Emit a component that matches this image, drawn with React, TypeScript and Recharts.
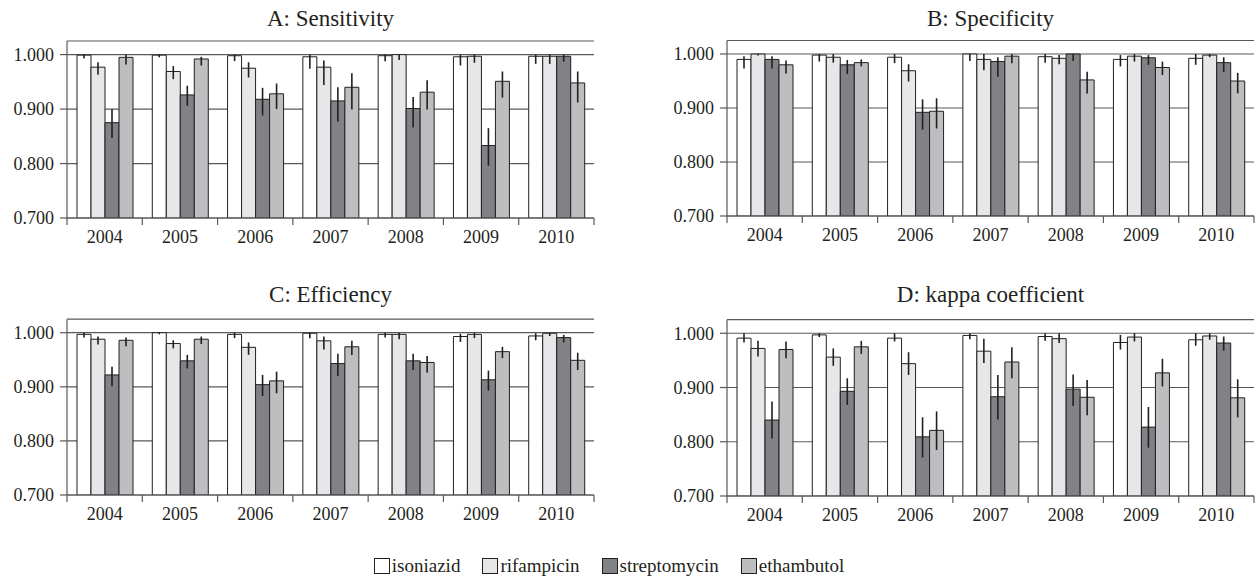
import { BarChart, Bar, XAxis, YAxis, CartesianGrid, ErrorBar } from "recharts";

const YEARS = ["2004", "2005", "2006", "2007", "2008", "2009", "2010"];
const DRUGS = ["isoniazid", "rifampicin", "streptomycin", "ethambutol"];
const FILLS = ["#ffffff", "#e6e7e8", "#808285", "#bcbec0"];
const Y_TICKS = [0.7, 0.8, 0.9, 1.0];

// A: Sensitivity  (values, then [lower, upper] confidence limits)
const sensIso = [0.999, 0.999, 0.998, 0.996, 0.998, 0.996, 0.997];
const sensIsoCi = [[0.993, 1], [0.995, 1], [0.988, 1], [0.974, 1], [0.988, 1], [0.98, 1], [0.983, 1]];
const sensRif = [0.977, 0.969, 0.975, 0.977, 1.0, 0.997, 0.997];
const sensRifCi = [[0.963, 0.986], [0.955, 0.979], [0.958, 0.986], [0.944, 0.989], [0.99, 1], [0.985, 1], [0.983, 1]];
const sensStr = [0.875, 0.926, 0.918, 0.915, 0.901, 0.833, 0.997];
const sensStrCi = [[0.847, 0.9], [0.906, 0.943], [0.888, 0.939], [0.877, 0.94], [0.866, 0.922], [0.796, 0.865], [0.987, 1]];
const sensEth = [0.995, 0.992, 0.928, 0.94, 0.931, 0.951, 0.948];
const sensEthCi = [[0.982, 1], [0.98, 0.996], [0.9, 0.947], [0.899, 0.966], [0.899, 0.953], [0.921, 0.969], [0.912, 0.969]];

// B: Specificity
const specIso = [0.99, 0.998, 0.994, 1.0, 0.995, 0.99, 0.992];
const specIsoCi = [[0.973, 0.996], [0.986, 1], [0.983, 1], [0.987, 1], [0.984, 1], [0.977, 0.998], [0.98, 1]];
const specRif = [1.0, 0.994, 0.969, 0.99, 0.992, 0.996, 0.998];
const specRifCi = [[0.997, 1], [0.984, 1], [0.949, 0.981], [0.97, 1], [0.981, 0.998], [0.986, 1], [0.994, 1]];
const specStr = [0.99, 0.98, 0.892, 0.986, 1.0, 0.993, 0.984];
const specStrCi = [[0.973, 0.996], [0.963, 0.989], [0.86, 0.916], [0.958, 0.994], [0.987, 1], [0.98, 0.998], [0.967, 0.994]];
const specEth = [0.98, 0.984, 0.894, 0.996, 0.952, 0.975, 0.95];
const specEthCi = [[0.964, 0.988], [0.977, 0.99], [0.862, 0.918], [0.983, 1], [0.927, 0.967], [0.961, 0.986], [0.927, 0.965]];

// C: Efficiency
const effIso = [0.997, 1.0, 0.997, 0.999, 0.997, 0.993, 0.994];
const effIsoCi = [[0.991, 1], [0.997, 1], [0.99, 1], [0.99, 1], [0.991, 1], [0.983, 0.998], [0.986, 0.999]];
const effRif = [0.988, 0.98, 0.973, 0.985, 0.997, 0.997, 0.999];
const effRifCi = [[0.978, 0.993], [0.971, 0.986], [0.959, 0.982], [0.969, 0.993], [0.988, 1], [0.99, 1], [0.994, 1]];
const effStr = [0.922, 0.948, 0.904, 0.943, 0.948, 0.913, 0.991];
const effStrCi = [[0.901, 0.937], [0.934, 0.959], [0.883, 0.922], [0.92, 0.961], [0.931, 0.961], [0.893, 0.93], [0.982, 0.996]];
const effEth = [0.986, 0.988, 0.911, 0.974, 0.945, 0.965, 0.949];
const effEthCi = [[0.975, 0.991], [0.979, 0.993], [0.888, 0.928], [0.959, 0.985], [0.926, 0.957], [0.953, 0.974], [0.931, 0.963]];

// D: kappa coefficient
const kapIso = [0.991, 0.997, 0.991, 0.996, 0.994, 0.983, 0.988];
const kapIsoCi = [[0.983, 1], [0.993, 1], [0.985, 1], [0.989, 1], [0.986, 1], [0.97, 0.997], [0.977, 1]];
const kapRif = [0.972, 0.956, 0.944, 0.967, 0.99, 0.993, 0.995];
const kapRifCi = [[0.957, 0.986], [0.94, 0.972], [0.923, 0.965], [0.945, 0.99], [0.982, 1], [0.985, 1], [0.988, 1]];
const kapStr = [0.84, 0.893, 0.809, 0.883, 0.897, 0.827, 0.982];
const kapStrCi = [[0.806, 0.874], [0.868, 0.917], [0.771, 0.845], [0.841, 0.923], [0.866, 0.924], [0.789, 0.864], [0.968, 0.994]];
const kapEth = [0.97, 0.975, 0.821, 0.947, 0.882, 0.927, 0.881];
const kapEthCi = [[0.954, 0.985], [0.962, 0.986], [0.785, 0.856], [0.917, 0.974], [0.849, 0.914], [0.902, 0.953], [0.845, 0.915]];

const FONT = '"Liberation Serif", "Times New Roman", serif';
const INK = "#231f20";
const AXIS = "#58595b";

// one row per year: d0..d3 values, e0..e3 as [below, above] error offsets
const buildRows = (vals: number[][], cis: number[][][]) =>
  YEARS.map((year, i) => {
    const row: Record<string, any> = { year };
    vals.forEach((v, k) => {
      row[`d${k}`] = v[i];
      row[`e${k}`] = [Math.max(0, v[i] - cis[k][i][0]), Math.max(0, cis[k][i][1] - v[i])];
    });
    return row;
  });

const PANELS = [
  {
    title: "A: Sensitivity",
    rows: buildRows([sensIso, sensRif, sensStr, sensEth], [sensIsoCi, sensRifCi, sensStrCi, sensEthCi]),
    left: 0, top: 0, width: 620, mTop: 41, mRight: 26, xh: 42, titleTop: 6.5,
  },
  {
    title: "B: Specificity",
    rows: buildRows([specIso, specRif, specStr, specEth], [specIsoCi, specRifCi, specStrCi, specEthCi]),
    left: 660, top: 0, width: 598, mTop: 40.5, mRight: 4, xh: 44, titleTop: 6.5,
  },
  {
    title: "C: Efficiency",
    rows: buildRows([effIso, effRif, effStr, effEth], [effIsoCi, effRifCi, effStrCi, effEthCi]),
    left: 0, top: 278, width: 620, mTop: 41.2, mRight: 26, xh: 43, titleTop: 282.5,
  },
  {
    title: "D: kappa coefficient",
    rows: buildRows([kapIso, kapRif, kapStr, kapEth], [kapIsoCi, kapRifCi, kapStrCi, kapEthCi]),
    left: 660, top: 278, width: 598, mTop: 41.7, mRight: 4, xh: 42, titleTop: 282.5,
  },
];

const CHART_H = 260;
const Y_W = 60;
const M_LEFT = 7;

const YearTick = (props: any) => {
  const { x, y, payload, index, half } = props;
  const last = index === YEARS.length - 1;
  return (
    <g>
      <line x1={x - half} y1={y} x2={x - half} y2={y + 7} stroke={AXIS} strokeWidth={1.2} />
      {last && <line x1={x + half} y1={y} x2={x + half} y2={y + 7} stroke={AXIS} strokeWidth={1.2} />}
      <text x={x} y={y + 25} textAnchor="middle" fontSize={18} fontFamily={FONT} fill={INK}>
        {payload.value}
      </text>
    </g>
  );
};

const Panel = ({ p }: { p: (typeof PANELS)[number] }) => {
  const plotLeft = p.left + M_LEFT + Y_W;
  const plotW = p.width - M_LEFT - Y_W - p.mRight;
  const half = plotW / YEARS.length / 2;
  return (
    <>
      <div
        style={{
          position: "absolute",
          left: plotLeft,
          width: plotW,
          top: p.titleTop,
          textAlign: "center",
          fontSize: 23,
          lineHeight: "23px",
          whiteSpace: "nowrap",
        }}
      >
        {p.title}
      </div>
      <div style={{ position: "absolute", left: p.left, top: p.top }}>
        <BarChart
          width={p.width}
          height={CHART_H}
          data={p.rows}
          margin={{ top: p.mTop, right: p.mRight, bottom: 0, left: M_LEFT }}
          barCategoryGap={10}
          barGap={0}
        >
          <CartesianGrid vertical={false} stroke={AXIS} strokeWidth={1.2} />
          <XAxis
            dataKey="year"
            height={p.xh}
            interval={0}
            tickLine={false}
            tickSize={0}
            tickMargin={0}
            axisLine={{ stroke: AXIS, strokeWidth: 1.2 }}
            tick={(t: any) => <YearTick {...t} half={half} />}
          />
          <YAxis
            width={Y_W}
            domain={[0.7, 1.025]}
            allowDataOverflow
            ticks={Y_TICKS}
            interval={0}
            tickSize={7}
            tickMargin={6}
            tickFormatter={(v: number) => v.toFixed(3)}
            tick={{ fontSize: 18, fontFamily: FONT, fill: INK }}
            tickLine={{ stroke: AXIS, strokeWidth: 1.2 }}
            axisLine={{ stroke: AXIS, strokeWidth: 1.2 }}
          />
          {DRUGS.map((d, k) => (
            <Bar
              key={d}
              dataKey={`d${k}`}
              name={d}
              fill={FILLS[k]}
              stroke={INK}
              strokeWidth={1}
              isAnimationActive={false}
            >
              <ErrorBar
                dataKey={`e${k}`}
                width={0}
                stroke={INK}
                strokeWidth={1.6}
                direction="y"
                isAnimationActive={false}
              />
            </Bar>
          ))}
        </BarChart>
      </div>
    </>
  );
};

export default function App() {
  return (
    <div
      style={{
        position: "absolute",
        left: 0,
        top: 0,
        width: 1258,
        height: 586,
        background: "#fff",
        fontFamily: FONT,
        color: INK,
      }}
    >
      {PANELS.map((p) => (
        <Panel key={p.title} p={p} />
      ))}
      <div
        style={{
          position: "absolute",
          left: 0,
          top: 555,
          width: 1218,
          display: "flex",
          justifyContent: "center",
          gap: 22,
          fontSize: 19,
          lineHeight: "22px",
        }}
      >
        {DRUGS.map((d, k) => (
          <div key={d} style={{ display: "flex", alignItems: "center" }}>
            <span
              style={{
                display: "inline-block",
                width: 14,
                height: 14,
                border: `1px solid ${INK}`,
                background: FILLS[k],
                marginRight: 2,
              }}
            />
            <span>{d}</span>
          </div>
        ))}
      </div>
    </div>
  );
}
